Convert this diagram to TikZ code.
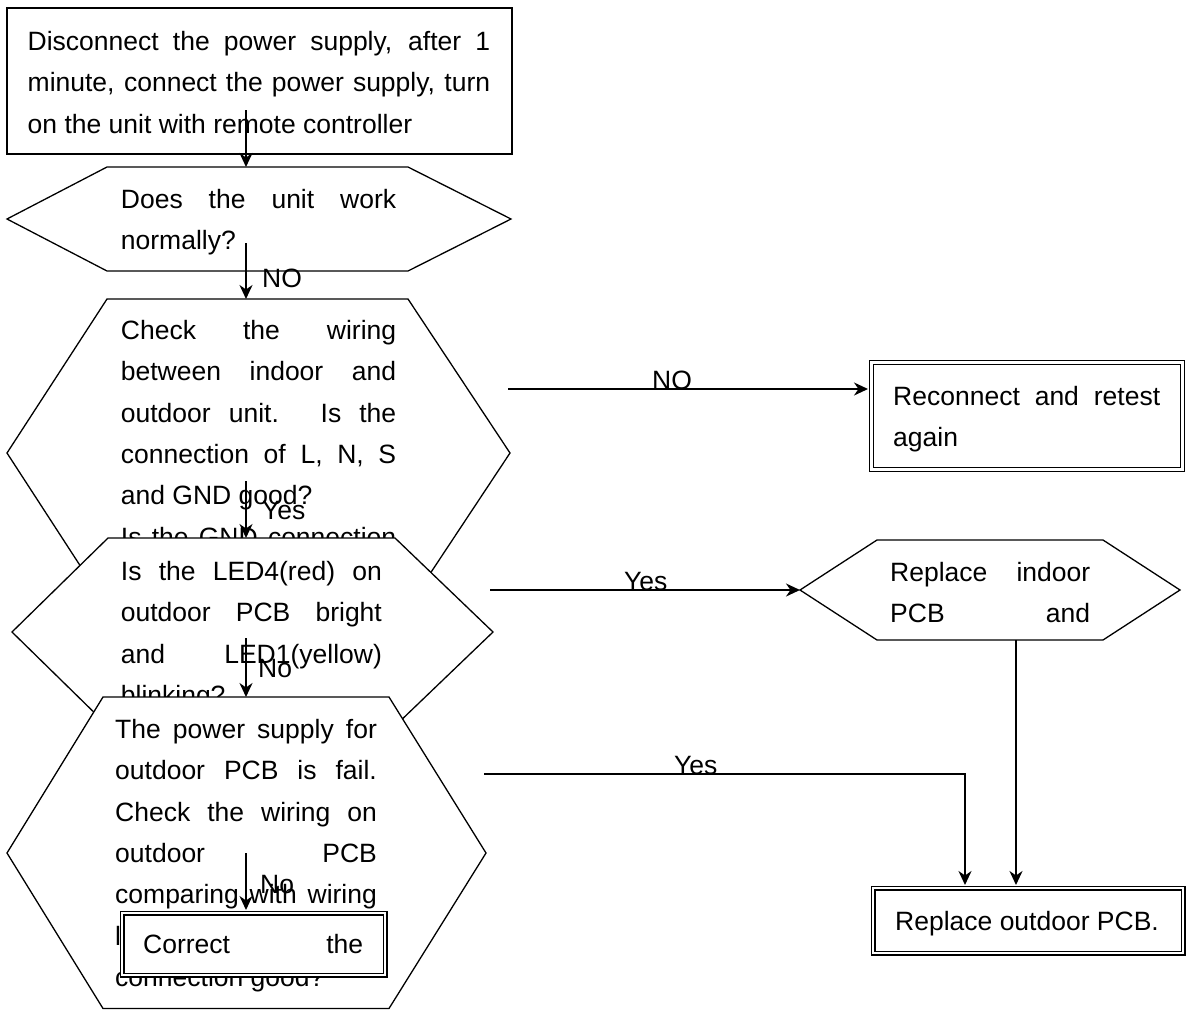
\documentclass[tikz,border=0pt]{standalone}
\usepackage{fontspec}
\setmainfont{Liberation Sans}
\usetikzlibrary{arrows.meta}
\newcommand\jl[1]{\makebox[\linewidth][s]{#1}}
\newcommand\blk[2]{\parbox[t]{#1}{\fontsize{26.5}{41.3}\selectfont\setlength\parindent{0pt}#2}}
\tikzset{
  shp/.style={draw=black, line width=1.3pt, fill=white, line join=miter},
  dbl/.style={draw=black, double=white, double distance=2.6pt, line width=1.2pt, fill=white},
  arr/.style={line width=2pt, -{Stealth[length=14pt,width=13pt,inset=4.5pt]}},
  txt/.style={inner sep=0pt, anchor=base west},
  lbl/.style={inner sep=0pt, anchor=base west, font=\fontsize{26.5}{30}\selectfont},
}
\begin{document}
\begin{tikzpicture}[x=1pt,y=-1pt]
\useasboundingbox (0,0) rectangle (1187,1010);

% ---- top rectangle
\node[shp, line width=1.5pt, minimum width=505pt, minimum height=146pt, inner sep=0pt, anchor=north west] (r0) at (6,7) {};
\node[txt] (t0) at (27.5,50.5) {\blk{462.5pt}{\jl{Disconnect the power supply, after 1}\\\jl{minute, connect the power supply, turn}\\on the unit with remote controller}};

% ---- hexagon 1
\draw[shp] (107,167) -- (408,167) -- (511,219) -- (408,271) -- (107,271) -- (7,219) -- cycle;
\node[txt] (t1) at (120.7,208.5) {\blk{275.3pt}{\jl{Does the unit work}\\normally?}};

% ---- hexagon 2
\draw[shp] (107,299) -- (408,299) -- (510,453) -- (408,607) -- (107,607) -- (7,453) -- cycle;
\node[txt] (t2) at (120.7,339.5) {\blk{275.3pt}{\jl{Check the wiring}\\\jl{between indoor and}\\\jl{outdoor unit. Is the}\\\jl{connection of L, N, S}\\and GND good?\\\jl{Is the GND connection}}};

% ---- hexagon 3
\draw[shp] (108,538) -- (395,538) -- (493,632) -- (395,726) -- (108,726) -- (12,632) -- cycle;
\node[txt] (t3) at (120.7,580.5) {\blk{261pt}{\jl{Is the LED4(red) on}\\\jl{outdoor PCB bright}\\\jl{and LED1(yellow)}\\blinking?}};

% ---- hexagon 4
\draw[shp] (103,697) -- (389,697) -- (486,853) -- (389,1008.5) -- (103,1008.5) -- (7,853) -- cycle;
\node[txt] (t4) at (115,738.5) {\blk{261.7pt}{\jl{The power supply for}\\\jl{outdoor PCB is fail.}\\\jl{Check the wiring on}\\\jl{outdoor PCB}\\\jl{comparing with wiring}\\l\\connection good?}};

% ---- correct box
\node[dbl, minimum width=263pt, minimum height=62pt, inner sep=0pt, anchor=north west] (cb) at (121.5,912.5) {};
\node[txt] (tcb) at (143,953) {\blk{220pt}{\jl{Correct the}}};

% ---- right side
\node[dbl, minimum width=311pt, minimum height=107pt, inner sep=0pt, anchor=north west] (rb) at (871,362) {};
\node[txt] (trb) at (893,405) {\blk{267pt}{\jl{Reconnect and retest}\\again}};

\draw[shp] (877,540) -- (1103,540) -- (1180,590) -- (1103,640) -- (877,640) -- (800,590) -- cycle;
\node[txt] (thr) at (890,581) {\blk{200pt}{\jl{Replace indoor}\\\jl{PCB and}}};

\node[dbl, minimum width=310pt, minimum height=65pt, inner sep=0pt, anchor=north west] (ob) at (872.5,887.5) {};
\node[lbl] (tob) at (895,930) {Replace outdoor PCB.};

% ---- connector ends
\coordinate (a1s) at (246,110);  \coordinate (h1t) at (246,167);
\coordinate (a2s) at (246,243);  \coordinate (h2t) at (246,299);
\coordinate (a3s) at (246,481);  \coordinate (h3t) at (246,538);
\coordinate (a4s) at (246,638);  \coordinate (h4t) at (246,697);
\coordinate (a5s) at (246,853);  \coordinate (cbt) at (246,910);
\coordinate (a6s) at (508,389);  \coordinate (rbl) at (868,389);
\coordinate (a7s) at (490,590);  \coordinate (hrl) at (800,590);
\coordinate (hrb) at (1016,640); \coordinate (obt1) at (1016,885);
\coordinate (a9s) at (484,774);  \coordinate (obt2) at (965,885);

% ---- connectors
\draw[arr] (a1s) -- (h1t);
\draw[arr] (a2s) -- (h2t);
\draw[arr] (a3s) -- (h3t);
\draw[arr] (a4s) -- (h4t);
\draw[arr] (a5s) -- (cbt);
\draw[arr] (a6s) -- (rbl);
\draw[arr] (a7s) -- (hrl);
\draw[arr] (hrb) -- (obt1);
\draw[arr] (a9s) -| (obt2);

% ---- labels
\node[lbl] (l2) at (262,287) {NO};
\node[lbl] (l3) at (262,519) {Yes};
\node[lbl] (l4) at (258,677) {No};
\node[lbl] (l5) at (260,893) {No};
\node[lbl] (l6) at (652,389) {NO};
\node[lbl] (l7) at (624,590) {Yes};
\node[lbl] (l9) at (674,774) {Yes};
\end{tikzpicture}
\end{document}
